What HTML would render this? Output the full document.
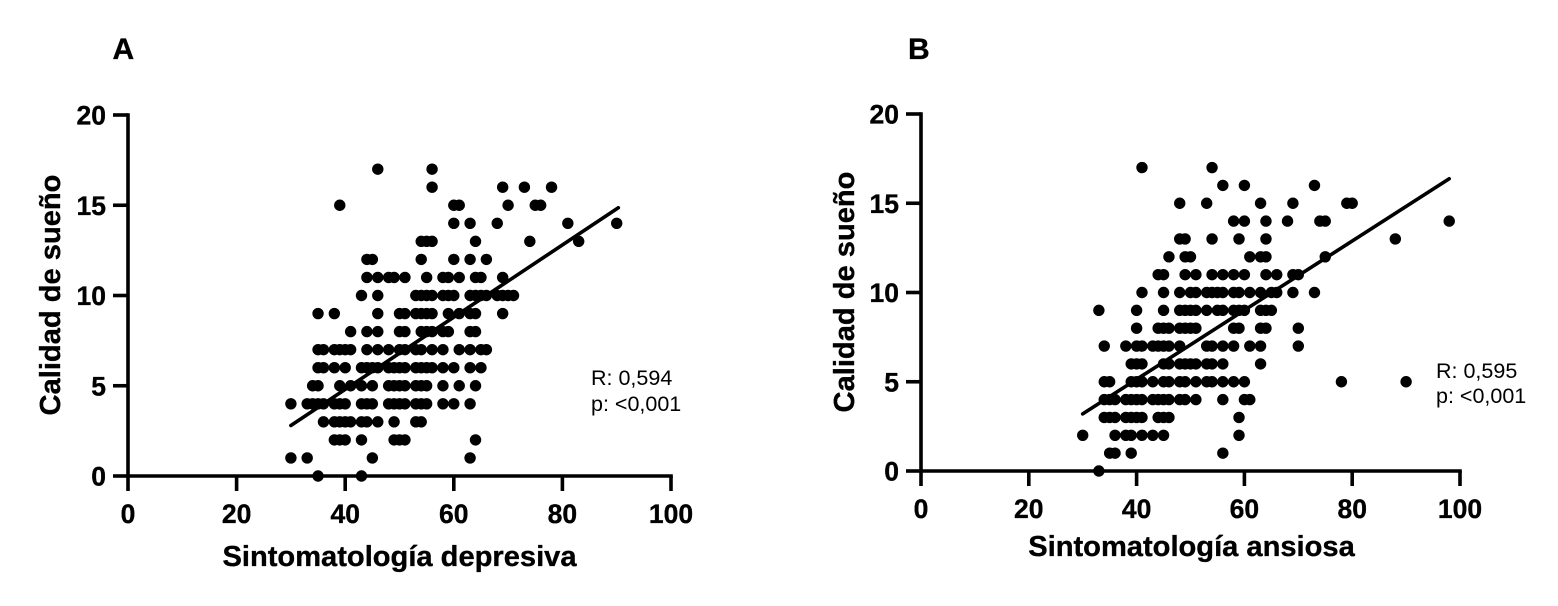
<!DOCTYPE html>
<html lang="es">
<head>
<meta charset="utf-8">
<title>Calidad de sueño</title>
<style>
html,body{margin:0;padding:0;background:#fff;}
svg{display:block;}
text{font-family:"Liberation Sans",Arial,sans-serif;fill:#000;}
.bold{font-weight:700;stroke:#000;stroke-width:0.35;}
</style>
</head>
<body>
<svg id="figure" xmlns="http://www.w3.org/2000/svg" width="1558" height="606" viewBox="0 0 1558 606">
  <rect x="0" y="0" width="1558" height="606" fill="#fff"/>
  <text class="bold" x="112.5" y="59" font-size="30">A</text>
  <text class="bold" x="908" y="59" font-size="30">B</text>
  <g id="panelA"></g>
  <g id="panelB"></g>
  <text class="bold" x="399.5" y="566" font-size="29.1" text-anchor="middle">Sintomatología depresiva</text>
  <text class="bold" x="1191.5" y="556" font-size="29.1" text-anchor="middle">Sintomatología ansiosa</text>
  <text class="bold" text-anchor="middle" font-size="29.1" transform="translate(60,295) rotate(-90)">Calidad de sueño</text>
  <text class="bold" text-anchor="middle" font-size="29.1" transform="translate(854,292) rotate(-90)">Calidad de sueño</text>
  <text x="591" y="385" font-size="21.5">R: 0,594</text>
  <text x="591" y="411" font-size="21.5">p: &lt;0,001</text>
  <text x="1436" y="378" font-size="21.5">R: 0,595</text>
  <text x="1436" y="403" font-size="21.5">p: &lt;0,001</text>
</svg>
<script>
const xTickLabels = [0, 20, 40, 60, 80, 100];
const yTickLabels = [0, 5, 10, 15, 20];

const depresivaX = [
  46,56,
  56,69,73,78,
  39,60,61,70,75,76,
  60,63,68,81,90,
  54,55,56,64,74,83,
  44,45,54,60,63,66,
  44,46,48,49,51,55,58,59,61,64,65,69,
  43,46,53,54,55,56,58,59,60,63,64,65,66,68,69,70,71,
  35,38,46,50,51,53,54,55,56,59,61,63,64,69,
  41,44,46,50,51,54,55,56,58,59,63,64,
  35,36,38,39,40,41,44,46,48,50,51,53,54,56,58,61,63,65,66,
  35,36,38,40,43,44,45,46,48,49,50,51,53,54,55,56,58,60,63,65,
  34,35,39,41,43,45,48,49,50,51,53,54,55,58,61,64,
  30,33,34,35,36,38,39,40,43,44,45,48,49,50,51,53,54,55,58,60,63,
  36,38,39,40,41,43,44,46,49,53,54,
  38,39,40,43,49,50,51,64,
  30,33,45,63,
  35,43
];
const suenoA = [
  17,17,
  16,16,16,16,
  15,15,15,15,15,15,
  14,14,14,14,14,
  13,13,13,13,13,13,
  12,12,12,12,12,12,
  11,11,11,11,11,11,11,11,11,11,11,11,
  10,10,10,10,10,10,10,10,10,10,10,10,10,10,10,10,10,
  9,9,9,9,9,9,9,9,9,9,9,9,9,9,
  8,8,8,8,8,8,8,8,8,8,8,8,
  7,7,7,7,7,7,7,7,7,7,7,7,7,7,7,7,7,7,7,
  6,6,6,6,6,6,6,6,6,6,6,6,6,6,6,6,6,6,6,6,
  5,5,5,5,5,5,5,5,5,5,5,5,5,5,5,5,
  4,4,4,4,4,4,4,4,4,4,4,4,4,4,4,4,4,4,4,4,4,
  3,3,3,3,3,3,3,3,3,3,3,
  2,2,2,2,2,2,2,2,
  1,1,1,1,
  0,0
];
const fitAX = [30, 90.3];
const fitAY = [2.8, 14.86];

const ansiosaX = [
  41,54,
  56,60,73,
  48,53,63,69,79,80,
  58,60,64,68,74,75,98,
  48,49,54,59,64,88,
  46,49,50,61,63,64,75,
  44,45,49,51,54,56,58,60,64,66,69,70,
  41,45,48,50,51,53,54,55,56,58,59,61,63,65,66,69,73,
  33,40,45,48,49,50,51,53,55,56,58,59,60,63,64,65,
  40,44,45,46,48,49,50,51,58,59,63,64,70,
  34,38,40,41,43,44,45,46,48,53,54,56,58,61,63,70,
  39,40,41,45,46,48,49,50,51,53,54,56,63,
  34,35,39,40,41,43,45,46,48,49,51,53,54,56,58,60,78,90,
  34,35,36,38,39,40,41,43,44,45,46,48,49,51,56,60,61,
  34,35,36,38,39,40,41,44,45,46,59,
  30,36,38,39,41,43,45,59,
  35,36,39,56,
  33
];
const suenoB = [
  17,17,
  16,16,16,
  15,15,15,15,15,15,
  14,14,14,14,14,14,14,
  13,13,13,13,13,13,
  12,12,12,12,12,12,12,
  11,11,11,11,11,11,11,11,11,11,11,11,
  10,10,10,10,10,10,10,10,10,10,10,10,10,10,10,10,10,
  9,9,9,9,9,9,9,9,9,9,9,9,9,9,9,9,
  8,8,8,8,8,8,8,8,8,8,8,8,8,
  7,7,7,7,7,7,7,7,7,7,7,7,7,7,7,7,
  6,6,6,6,6,6,6,6,6,6,6,6,6,
  5,5,5,5,5,5,5,5,5,5,5,5,5,5,5,5,5,5,
  4,4,4,4,4,4,4,4,4,4,4,4,4,4,4,4,4,
  3,3,3,3,3,3,3,3,3,3,3,
  2,2,2,2,2,2,2,2,
  1,1,1,1,
  0
];
const fitBX = [30, 98];
const fitBY = [3.2, 16.37];

const NS = 'http://www.w3.org/2000/svg';

function svgEl(parent, tag, attrs) {
  const el = document.createElementNS(NS, tag);
  for (const k in attrs) el.setAttribute(k, attrs[k]);
  parent.appendChild(el);
  return el;
}

function drawPanel(group, frame, xs, ys, fitX, fitY) {
  const xAt = v => frame.x0 + (frame.x100 - frame.x0) * v / 100;
  const yAt = v => frame.y0 + (frame.y20 - frame.y0) * v / 20;

  xs.forEach((xv, i) => {
    const dot = svgEl(group, 'circle', { cx: xAt(xv), cy: yAt(ys[i]), r: 5.7, fill: '#000' });
    
    
  });

  const fit = svgEl(group, 'line', {
    x1: xAt(fitX[0]), y1: yAt(fitY[0]), x2: xAt(fitX[1]), y2: yAt(fitY[1]),
    stroke: '#000', 'stroke-width': 3.6, 'stroke-linecap': 'round'
  });
  
  

  const yAxis = svgEl(group, 'line', {
    x1: xAt(0), y1: yAt(20) - 1.8, x2: xAt(0), y2: yAt(0),
    stroke: '#000', 'stroke-width': 3.6
  });
  
  

  const xAxis = svgEl(group, 'line', {
    x1: xAt(0), y1: yAt(0), x2: xAt(100) + 1.8, y2: yAt(0),
    stroke: '#000', 'stroke-width': 3.6
  });
  
  

  xTickLabels.forEach(t => {
    const tick = svgEl(group, 'line', {
      x1: xAt(t), y1: yAt(0), x2: xAt(t), y2: yAt(0) + 15,
      stroke: '#000', 'stroke-width': 3.6
    });
    
    
    const label = svgEl(group, 'text', {
      x: xAt(t), y: yAt(0) + 47, 'font-size': 26.5, 'font-weight': 700, 'text-anchor': 'middle',
      stroke: '#000', 'stroke-width': 0.35
    });
    label.textContent = t;
    
    
  });

  yTickLabels.forEach(t => {
    const tick = svgEl(group, 'line', {
      x1: xAt(0) - 15, y1: yAt(t), x2: xAt(0), y2: yAt(t),
      stroke: '#000', 'stroke-width': 3.6
    });
    
    
    const label = svgEl(group, 'text', {
      x: xAt(0) - 22, y: yAt(t) + 9.5, 'font-size': 26.5, 'font-weight': 700, 'text-anchor': 'end',
      stroke: '#000', 'stroke-width': 0.35
    });
    label.textContent = t;
    
    
  });
}

drawPanel(document.getElementById('panelA'), { x0: 128, x100: 671, y0: 476, y20: 115 }, depresivaX, suenoA, fitAX, fitAY);
drawPanel(document.getElementById('panelB'), { x0: 921, x100: 1460, y0: 471, y20: 114 }, ansiosaX, suenoB, fitBX, fitBY);
</script>
</body>
</html>
